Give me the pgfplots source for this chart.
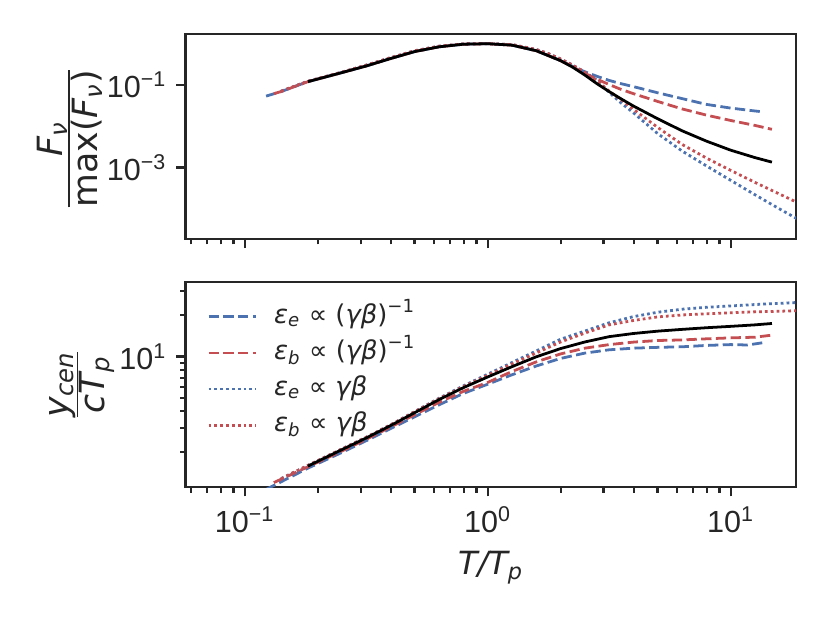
\documentclass[border=0pt]{standalone}
\usepackage{pgfplots}
\pgfplotsset{compat=1.18}
\usepackage{fontspec}
\setmainfont{Liberation Sans}
\newfontfamily\dvs{DejaVu Sans}
\definecolor{sbblue}{HTML}{4C72B0}
\definecolor{sbred}{HTML}{C44E52}
\definecolor{axgray}{HTML}{262626}
\tikzset{
  dsh/.style={line width=1pt, dash pattern=on 3.7pt off 1.6pt},
  dtt/.style={line width=1pt, dash pattern=on 1pt off 1.1pt},
  blk/.style={line width=1pt, black},
}
\begin{document}
\begin{tikzpicture}
\path[use as bounding box] (-66.8pt,-138.24pt) rectangle (232.0pt,86.04pt);
\begin{axis}[at={(0pt,0pt)}, anchor=south west,
  scale only axis, width=219.8pt, height=73.8pt,
  xmode=log, ymode=log,
  xmin=0.0571, xmax=18.6,
  xtick={0.1,1,10},
  minor xtick={0.06,0.07,0.08,0.09,0.2,0.3,0.4,0.5,0.6,0.7,0.8,0.9,2,3,4,5,6,7,8,9},
  axis line style={axgray, line width=0.8pt},
  tick style={axgray, line width=0.8pt},
  tick align=outside,
  xtick pos=bottom, ytick pos=left,
  major tick length=3.3pt, minor tick length=1.9pt,
  tick label style={font=\fontsize{11}{13}\selectfont, text=axgray},
  label style={font=\fontsize{12.5}{14}\selectfont, text=axgray},
  ymin=1.85e-5, ymax=1.72,
  ytick={1e-3,1e-1}, yticklabels={10\textsuperscript{−3},10\textsuperscript{−1}},
  yminorticks=false,
  xticklabels={},
  ylabel={\dvs$\frac{\mbox{\itshape F\textsubscript{ν}}}{\mbox{max(\itshape F\textsubscript{ν}\upshape)}}$},
  ylabel style={at={(axis description cs:-0.19,0.49)}, anchor=center},
]
\addplot[sbblue, dsh] coordinates {(0.1225,0.05370)(0.1413,0.06918)(0.1585,0.08913)(0.1820,0.1202)(0.2512,0.1995)(0.3162,0.2884)(0.3981,0.4365)(0.5012,0.6457)(0.6310,0.841)(0.7943,0.9727)(1,1)(1.2589,0.9226)(1.5849,0.6761)(1.7783,0.5129)(1.9953,0.3890)(2.2387,0.2818)(2.5119,0.2089)(2.8184,0.1622)(3.1623,0.1288)(3.5481,0.1072)(3.9811,0.09120)(5.0119,0.06457)(6.3096,0.04677)(7.9433,0.03388)(10,0.02754)(12.589,0.02344)(13.49,0.02239)};
\addplot[sbred, dsh] coordinates {(0.1318,0.06166)(0.1413,0.06918)(0.1585,0.08913)(0.1820,0.1202)(0.2512,0.1995)(0.3162,0.2884)(0.3981,0.4365)(0.5012,0.6457)(0.6310,0.841)(0.7943,0.9727)(1,1)(1.2589,0.9226)(1.5849,0.6761)(1.7783,0.5129)(1.9953,0.3890)(2.2387,0.2754)(2.5119,0.1905)(2.8184,0.1380)(3.1623,0.1023)(3.5481,0.07762)(3.9811,0.06166)(5.0119,0.03981)(6.3096,0.02630)(7.9433,0.01862)(10,0.01380)(12.589,0.01047)(14.79,0.008414)};
\addplot[sbblue, dtt] coordinates {(0.1413,0.07079)(0.1820,0.1230)(0.2512,0.2042)(0.3162,0.3020)(0.3981,0.4571)(0.5012,0.6761)(0.6310,0.8710)(0.7943,0.9886)(1,1)(1.2589,0.9550)(1.5849,0.7244)(1.7783,0.5754)(1.9953,0.4266)(2.2387,0.3020)(2.5119,0.2042)(2.8184,0.1303)(3.1623,0.06607)(3.5481,0.03631)(3.9811,0.02113)(5.0119,0.006607)(6.3096,0.002512)(7.9433,0.001096)(10,0.0004898)(12.589,0.0002188)(15.849,0.0001)(19.95,0.00004677)};
\addplot[sbred, dtt] coordinates {(0.1413,0.07079)(0.1820,0.1230)(0.2512,0.2042)(0.3162,0.3020)(0.3981,0.4571)(0.5012,0.6761)(0.6310,0.8710)(0.7943,0.9886)(1,1)(1.2589,0.9550)(1.5849,0.7244)(1.7783,0.5754)(1.9953,0.4266)(2.2387,0.3020)(2.5119,0.2042)(2.8184,0.1259)(3.1623,0.07079)(3.5481,0.04365)(3.9811,0.02570)(5.0119,0.009333)(6.3096,0.003631)(7.9433,0.001698)(10,0.0008511)(12.589,0.0004365)(15.849,0.0002291)(19.95,0.0001202)};
\addplot[blk] coordinates {(0.1820,0.1202)(0.2512,0.1995)(0.3162,0.2884)(0.3981,0.4365)(0.5012,0.6457)(0.6310,0.841)(0.7943,0.9727)(1,1)(1.2589,0.9226)(1.5849,0.6761)(1.7783,0.5129)(1.9953,0.3890)(2.2387,0.2692)(2.5119,0.1738)(2.8184,0.1072)(3.1623,0.06918)(3.5481,0.04571)(3.9811,0.03090)(5.0119,0.01514)(6.3096,0.007762)(7.9433,0.004365)(10,0.002630)(12.589,0.001738)(14.79,0.001349)};
\end{axis}
\begin{axis}[at={(0pt,-89.4pt)}, anchor=south west,
  scale only axis, width=219.8pt, height=74pt,
  xmode=log, ymode=log,
  xmin=0.0571, xmax=18.6,
  xtick={0.1,1,10},
  minor xtick={0.06,0.07,0.08,0.09,0.2,0.3,0.4,0.5,0.6,0.7,0.8,0.9,2,3,4,5,6,7,8,9},
  axis line style={axgray, line width=0.8pt},
  tick style={axgray, line width=0.8pt},
  tick align=outside,
  xtick pos=bottom, ytick pos=left,
  major tick length=3.3pt, minor tick length=1.9pt,
  tick label style={font=\fontsize{11}{13}\selectfont, text=axgray},
  label style={font=\fontsize{12.5}{14}\selectfont, text=axgray},
  ymin=1.11, ymax=35,
  ytick={10}, yticklabels={10\textsuperscript{1}},
  minor ytick={2,3,4,5,6,7,8,9,20,30},
  xticklabels={10\textsuperscript{−1},10\textsuperscript{0},10\textsuperscript{1}},
  xlabel={\dvs\fontsize{11.5}{13}\selectfont\itshape T/T\textsubscript{p}},
  ylabel={\dvs$\frac{\mbox{\itshape y\textsubscript{cen}}}{\mbox{\itshape cT\textsubscript{p}}}$},
  ylabel style={at={(axis description cs:-0.17,0.5)}, anchor=center},
  legend style={draw=none, fill=none, inner sep=0pt, at={(0.0346,0.918)}, anchor=north west,
    font=\fontsize{9.3}{10}\selectfont\dvs, text=axgray, row sep=0.3pt,
    nodes={inner xsep=0pt, inner ysep=1.5pt, text height=7.2pt, text depth=2.5pt}},
  legend cell align=left,
]
\addplot[sbblue, dsh] coordinates {(0.1225,1.072)(0.1820,1.531)(0.2512,1.995)(0.3162,2.427)(0.3981,2.972)(0.5012,3.631)(0.6310,4.436)(0.7943,5.370)(1,6.266)(1.2589,7.345)(1.5849,8.511)(1.9953,9.661)(2.5119,10.57)(3.1623,11.17)(3.9811,11.48)(5.0119,11.64)(6.3096,11.75)(7.9433,12.02)(10,12.19)(11.75,12.11)(13.49,12.56)};
\addlegendentry{\hspace{6pt}\itshape ε\textsubscript{e}\upshape{} ∝ (\itshape γβ\upshape)\textsuperscript{−1}}
\addplot[sbred, dsh] coordinates {(0.1318,1.202)(0.1820,1.567)(0.2512,2.042)(0.3162,2.483)(0.3981,3.055)(0.5012,3.758)(0.6310,4.624)(0.7943,5.559)(1,6.457)(1.2589,7.762)(1.5849,9.120)(1.9953,10.42)(2.5119,11.48)(3.1623,12.19)(3.9811,12.71)(5.0119,13.06)(6.3096,13.18)(7.9433,13.43)(10,13.65)(12.589,13.80)(14.79,14.29)};
\addlegendentry{\hspace{6pt}\itshape ε\textsubscript{b}\upshape{} ∝ (\itshape γβ\upshape)\textsuperscript{−1}}
\addplot[sbblue, dtt] coordinates {(0.1413,1.285)(0.1820,1.603)(0.2512,2.113)(0.3162,2.570)(0.3981,3.162)(0.5012,3.963)(0.6310,4.955)(0.7943,6.095)(1,7.413)(1.2589,9.016)(1.5849,10.96)(1.9953,13.34)(2.5119,15.31)(3.1623,17.58)(3.9811,19.50)(5.0119,20.99)(6.3096,22.08)(7.9433,22.80)(10,23.33)(12.589,23.88)(15.849,24.38)(19.95,24.83)};
\addlegendentry{\hspace{6pt}\itshape ε\textsubscript{e}\upshape{} ∝ \itshape γβ}
\addplot[sbred, dtt] coordinates {(0.1413,1.285)(0.1820,1.603)(0.2512,2.113)(0.3162,2.570)(0.3981,3.162)(0.5012,3.954)(0.6310,4.920)(0.7943,6.026)(1,7.278)(1.2589,8.810)(1.5849,10.59)(1.9953,12.74)(2.5119,14.79)(3.1623,16.98)(3.9811,18.28)(5.0119,19.41)(6.3096,20.04)(7.9433,20.46)(10,20.80)(12.589,21.13)(15.849,21.33)(19.95,21.63)};
\addlegendentry{\hspace{6pt}\itshape ε\textsubscript{b}\upshape{} ∝ \itshape γβ}
\addplot[blk, forget plot] coordinates {(0.1820,1.585)(0.2512,2.089)(0.3162,2.541)(0.3981,3.126)(0.5012,3.890)(0.6310,4.842)(0.7943,5.916)(1,7.079)(1.2589,8.414)(1.5849,9.931)(1.9953,11.40)(2.5119,12.74)(3.1623,13.93)(3.9811,14.69)(5.0119,15.28)(6.3096,15.74)(7.9433,16.18)(10,16.56)(12.589,16.98)(14.79,17.38)};
\end{axis}
\end{tikzpicture}
\end{document}
